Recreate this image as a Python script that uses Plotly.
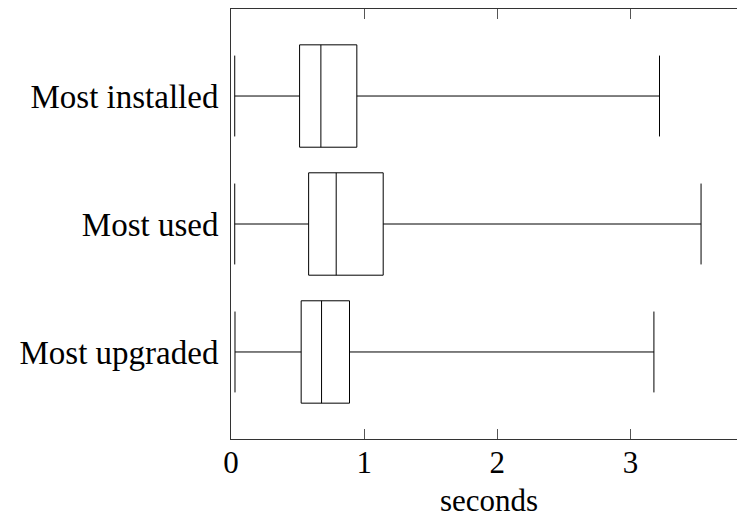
import plotly.graph_objects as go

categories = ["Most installed", "Most used", "Most upgraded"]
lower_whisker = [0.028, 0.028, 0.030]
q1_values = [0.515, 0.583, 0.527]
median_values = [0.675, 0.790, 0.680]
q3_values = [0.945, 1.143, 0.890]
upper_whisker = [3.218, 3.530, 3.176]

x_ticks = [0, 1, 2, 3]

FONT = "Liberation Serif"

fig = go.Figure()
fig.add_trace(go.Box(
    y=categories,
    q1=q1_values,
    median=median_values,
    q3=q3_values,
    lowerfence=lower_whisker,
    upperfence=upper_whisker,
    orientation="h",
    width=0.8,
    whiskerwidth=0.79,
    fillcolor="white",
    line=dict(color="black", width=1),
    boxpoints=False,
    showlegend=False,
    hoverinfo="skip",
))

fig.add_annotation(
    text="seconds",
    xref="paper", yref="paper",
    x=0.5, y=0,
    xanchor="center", yanchor="top",
    xshift=5, yshift=-43,
    showarrow=False,
    borderpad=0,
    font=dict(family=FONT, size=31, color="black"),
)

fig.update_layout(
    width=737,
    height=518,
    margin=dict(l=231, r=0, t=9, b=79),
    paper_bgcolor="white",
    plot_bgcolor="white",
    font=dict(family=FONT, size=32, color="black"),
    xaxis=dict(
        range=[0, 3.8],
        tickvals=x_ticks,
        ticktext=[str(t) for t in x_ticks],
        ticks="inside",
        ticklen=10,
        tickcolor="#555",
        tickwidth=1,
        showline=True,
        linecolor="#333",
        linewidth=1,
        mirror="ticks",
        showgrid=False,
        zeroline=False,
        ticklabelstandoff=-4,
        automargin=False,
        tickfont=dict(family=FONT, size=31),
    ),
    yaxis=dict(
        type="category",
        categoryarray=categories,
        range=[2.68, -0.68],
        showline=True,
        linecolor="#333",
        linewidth=1,
        mirror=False,
        ticks="",
        showgrid=False,
        zeroline=False,
        ticklabelstandoff=5,
        automargin=False,
        tickfont=dict(family=FONT, size=33),
    ),
)

fig.write_html(
    "out.html",
    config={"displayModeBar": False},
    post_script="document.body.style.margin='0';document.body.style.overflow='hidden';",
)
